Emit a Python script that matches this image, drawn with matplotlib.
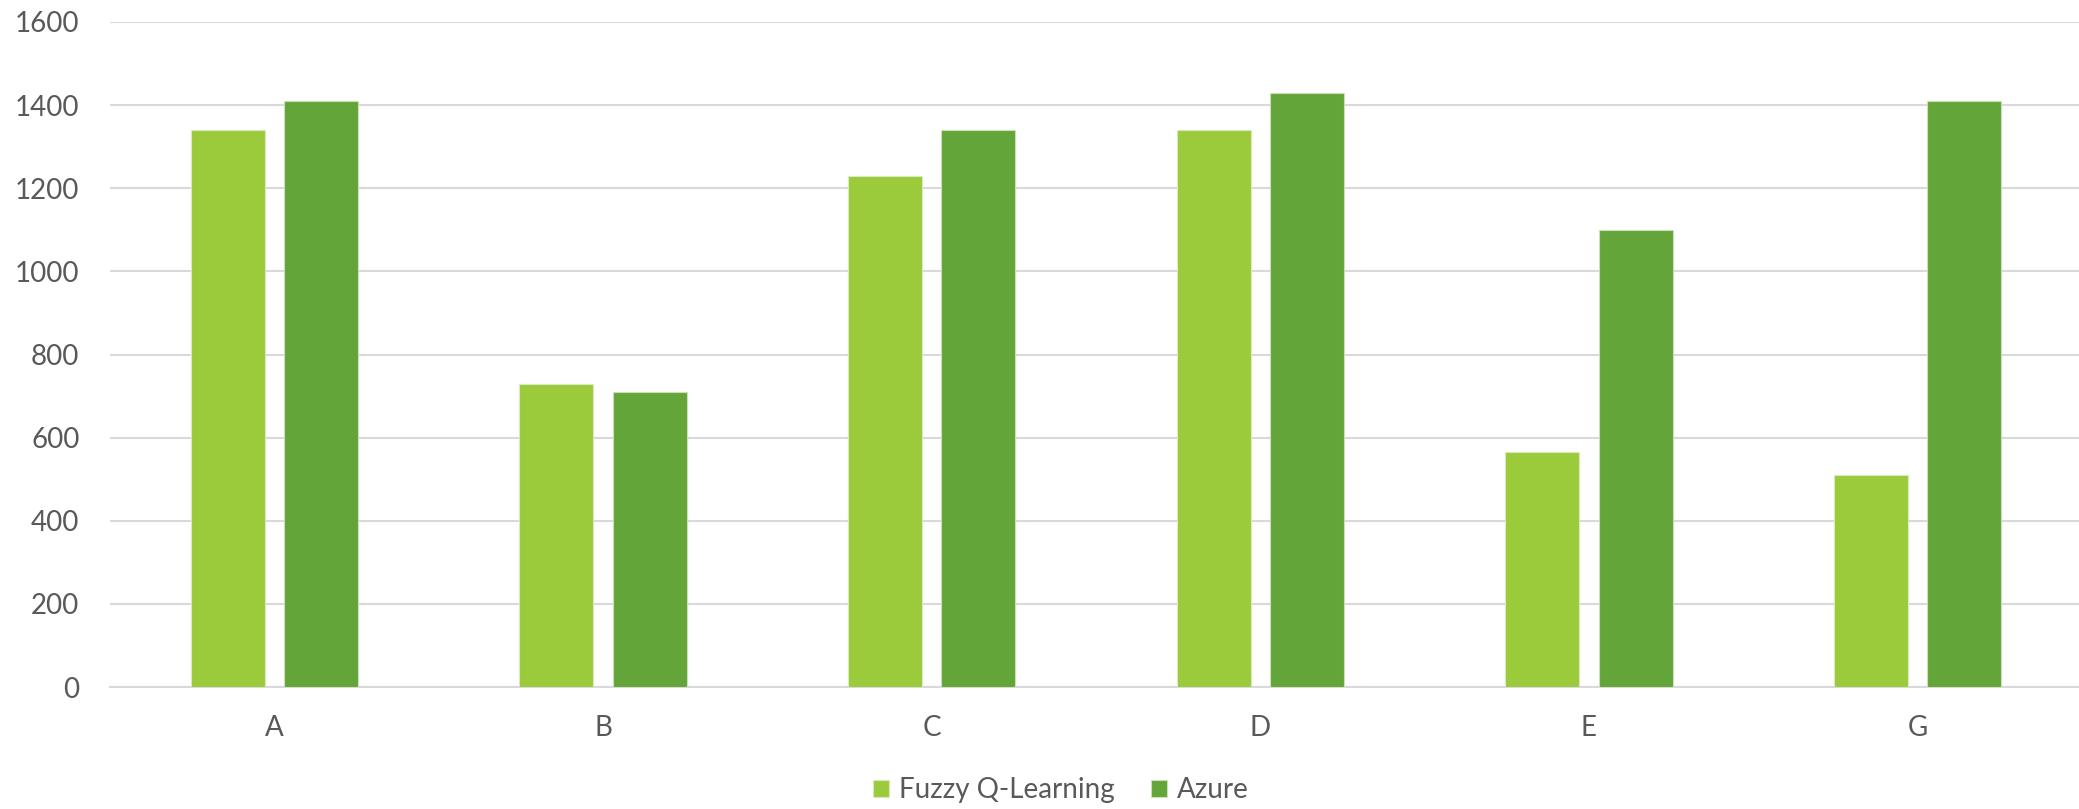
import matplotlib.pyplot as plt
import numpy as np

# throughput per configuration
categories = ['A', 'B', 'C', 'D', 'E', 'G']
fuzzy_q = [1340, 730, 1230, 1340, 565, 510]
azure = [1410, 710, 1340, 1430, 1100, 1410]

plt.rcParams['font.family'] = ['Lato', 'DejaVu Sans']
text_color = '#595959'

fig = plt.figure(figsize=(20.79, 8.09), dpi=100)
ax = fig.add_axes([110 / 2079, 1 - 687 / 809, 1972 / 2079, 665 / 809])

x = np.arange(len(categories))
w = 0.225
ax.bar(x - 0.142, fuzzy_q, w, color='#9BCA3A', edgecolor='#d8ebc0', linewidth=0.8,
       label='Fuzzy Q-Learning', zorder=3)
ax.bar(x + 0.142, azure, w, color='#63A538', edgecolor='#c9e0b8', linewidth=0.8,
       label='Azure', zorder=3)

ax.set_xlim(-0.5, len(categories) - 0.5)
ax.set_ylim(0, 1600)
ax.set_yticks(np.arange(0, 1601, 200))
ax.set_xticks(x)
ax.set_xticklabels(categories)

ax.grid(axis='y', color='#D9D9D9', linewidth=1.5, zorder=0)
for s in ['top', 'right', 'left']:
    ax.spines[s].set_visible(False)
ax.spines['bottom'].set_color('#D9D9D9')
ax.spines['bottom'].set_linewidth(1.5)
ax.tick_params(axis='both', length=0, labelsize=20, colors=text_color)
ax.tick_params(axis='y', pad=22)
ax.tick_params(axis='x', pad=20)

fig.legend(loc='center', bbox_to_anchor=(1061 / 2079, 1 - 790 / 809), ncol=2,
           frameon=False, fontsize=20, labelcolor=text_color,
           handlelength=0.57, handleheight=0.57, handletextpad=0.36,
           columnspacing=1.3)

fig.savefig('out.png', dpi=100)
